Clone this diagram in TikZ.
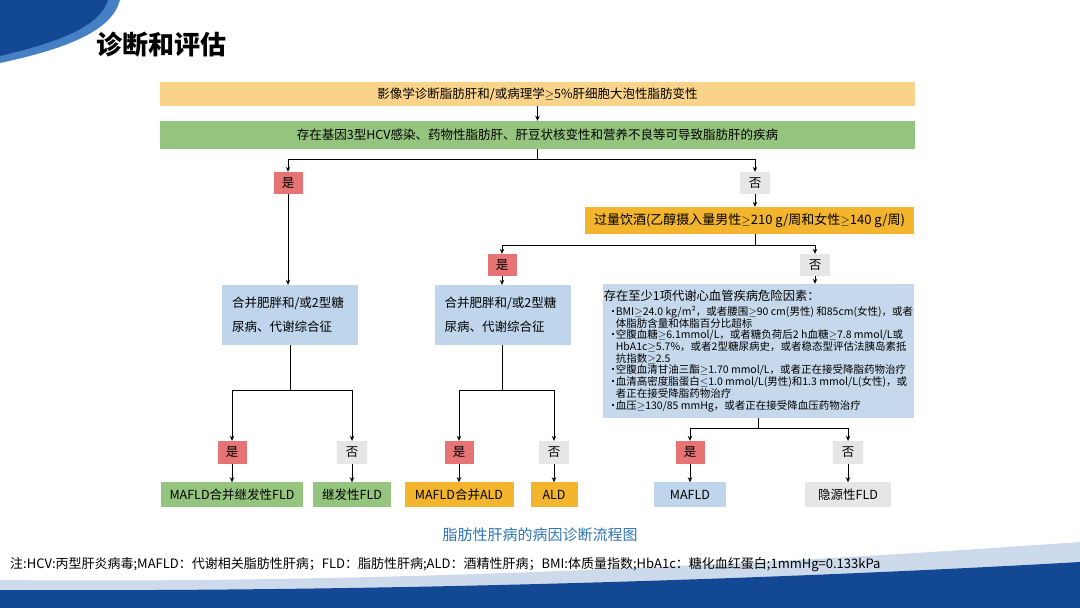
\documentclass[tikz,border=0pt]{standalone}
\usepackage{fontspec}
\setmainfont{Noto Sans CJK SC}
\usetikzlibrary{arrows.meta, positioning, calc}

\definecolor{topyellow}{RGB}{249,211,137}
\definecolor{causegreen}{RGB}{148,196,126}
\definecolor{yesred}{RGB}{231,116,116}
\definecolor{nogrey}{RGB}{230,230,230}
\definecolor{alcorange}{RGB}{242,181,45}
\definecolor{condblue}{RGB}{191,213,235}
\definecolor{riskblue}{RGB}{198,217,236}
\definecolor{capblue}{RGB}{46,117,182}
\definecolor{wavedark}{RGB}{18,72,148}
\definecolor{wavelight}{RGB}{70,128,196}
\definecolor{bandlight}{RGB}{205,218,235}

\newcommand{\riskitem}{\hspace*{4pt}\makebox[8pt][l]{•}}
\newcommand{\riskcont}{\hspace*{12pt}}
\newcommand{\GE}{$\geq$}
\newcommand{\LE}{$\leq$}

\begin{document}
\begin{tikzpicture}[
  x=1pt, y=-1pt,
  >={Stealth[length=5pt,width=4.5pt]},
  font=\fontsize{12.5}{15}\selectfont,
  box/.style={inner sep=0pt, align=center},
  wide/.style={box, minimum width=755pt},
  yesbox/.style={box, fill=yesred, minimum width=29pt, minimum height=22pt},
  nobox/.style={box, fill=nogrey, minimum width=30pt, minimum height=22pt},
  condbox/.style={box, fill=condblue, minimum width=136pt, minimum height=60pt, text width=116pt, align=left, font=\fontsize{12.5}{24}\selectfont},
  riskbox/.style={box, fill=riskblue, minimum width=311pt, minimum height=134pt, align=left, font=\fontsize{10.5}{11.7}\selectfont},
  result/.style={box, minimum height=25pt},
  link/.style={draw, line width=0.8pt}
]
\fill[white] (0,0) rectangle (1080,608);
\useasboundingbox (0,0) rectangle (1080,608);

% SLIDE FRAME
\fill[wavelight] (0,0) -- (120,0) .. controls (112,30) and (70,48) .. (0,63) -- cycle;
\fill[wavedark] (0,0) -- (108,0) .. controls (100,26) and (60,42) .. (0,56) -- cycle;
\fill[bandlight] (0,580) .. controls (400,584) and (800,562) .. (1080,542) -- (1080,608) -- (0,608) -- cycle;
\fill[wavedark] (0,590) .. controls (400,592) and (800,578) .. (1080,562) -- (1080,608) -- (0,608) -- cycle;

\node[anchor=west, font=\fontsize{26}{30}\selectfont\bfseries] (title) at (93,45) {诊断和评估};

% SCREENING
\node[wide, fill=topyellow, minimum height=24pt] (img) at (537.5,94) {影像学诊断脂肪肝和/或病理学\GE 5\%肝细胞大泡性脂肪变性};
\node[wide, fill=causegreen, minimum height=28pt] (cause) at (537.5,135) {存在基因3型HCV感染、药物性脂肪肝、肝豆状核变性和营养不良等可导致脂肪肝的疾病};
\draw[link, ->] (img) -- (cause);

\node[yesbox] (yes1) at (288,183) {是};
\node[nobox] (no1) at (755,183) {否};
\coordinate (s1) at ($(cause.south)+(0,10)$);
\draw[link] (cause.south) -- (s1);
\draw[link, ->] (s1) -| (yes1);
\draw[link, ->] (s1) -| (no1);

% ALCOHOL
\node[box, fill=alcorange, minimum width=329pt, minimum height=27pt, font=\fontsize{13}{15}\selectfont] (alc) at (749.5,220.5) {过量饮酒(乙醇摄入量男性\GE 210 g/周和女性\GE 140 g/周)};
\draw[link, ->] (no1) -- (no1 |- alc.north);

\node[yesbox] (yes2) at (502,265) {是};
\node[nobox] (no2) at (815,265) {否};
\coordinate (s2) at ($(no1 |- alc.south)+(0,11)$);
\draw[link] (no1 |- alc.south) -- (s2);
\draw[link, ->] (s2) -| (yes2);
\draw[link, ->] (s2) -| (no2);

% METABOLIC CONDITIONS
\node[condbox] (cond1) at (290,315) {合并肥胖和/或2型糖\\尿病、代谢综合征};
\node[condbox] (cond2) at (502.5,315) {合并肥胖和/或2型糖\\尿病、代谢综合征};
\draw[link, ->] (yes1) -- (yes1 |- cond1.north);
\draw[link, ->] (yes2) -- (yes2 |- cond2.north);

\node[riskbox] (risk) at (758.5,351) {{\fontsize{12.3}{15}\selectfont 存在至少1项代谢心血管疾病危险因素：}\\[3pt]
\riskitem BMI\GE 24.0 kg/m²，或者腰围\GE 90 cm(男性) 和85cm(女性)，或者\\
\riskcont 体脂肪含量和体脂百分比超标\\
\riskitem 空腹血糖\GE 6.1mmol/L，或者糖负荷后2 h血糖\GE 7.8 mmol/L或\\
\riskcont HbA1c\GE 5.7\%，或者2型糖尿病史，或者稳态型评估法胰岛素抵\\
\riskcont 抗指数\GE 2.5\\
\riskitem 空腹血清甘油三酯\GE 1.70 mmol/L，或者正在接受降脂药物治疗\\
\riskitem 血清高密度脂蛋白\LE 1.0 mmol/L(男性)和1.3 mmol/L(女性)，或\\
\riskcont 者正在接受降脂药物治疗\\
\riskitem 血压\GE 130/85 mmHg，或者正在接受降血压药物治疗};
\draw[link, ->] (no2) -- (no2 |- risk.north);

% DIAGNOSES
\node[yesbox, minimum height=23pt] (yes3) at (232,452.5) {是};
\node[nobox, minimum height=23pt] (no3) at (352,452.5) {否};
\node[yesbox, minimum height=23pt] (yes4) at (459,452.5) {是};
\node[nobox, minimum height=23pt] (no4) at (554,452.5) {否};
\node[yesbox, minimum height=23pt] (yes5) at (690,452.5) {是};
\node[nobox, minimum height=23pt] (no5) at (848,452.5) {否};

\coordinate (s3) at ($(cond1.south)+(0,45)$);
\draw[link] (cond1.south) -- (s3);
\draw[link, ->] (s3) -| (yes3);
\draw[link, ->] (s3) -| (no3);
\coordinate (s4) at ($(cond2.south)+(0,45)$);
\draw[link] (cond2.south) -- (s4);
\draw[link, ->] (s4) -| (yes4);
\draw[link, ->] (s4) -| (no4);
\coordinate (s5) at ($(risk.south)+(0,10)$);
\draw[link] (risk.south) -- (s5);
\draw[link, ->] (s5) -| (yes5);
\draw[link, ->] (s5) -| (no5);

\node[result, fill=causegreen, minimum width=142pt, below=18pt of yes3] (res1) {MAFLD合并继发性FLD};
\node[result, fill=causegreen, minimum width=78pt, below=18pt of no3] (res2) {继发性FLD};
\node[result, fill=alcorange, minimum width=109pt, below=18pt of yes4] (res3) {MAFLD合并ALD};
\node[result, fill=alcorange, minimum width=47pt, below=18pt of no4] (res4) {ALD};
\node[result, fill=condblue, minimum width=72pt, below=18pt of yes5] (res5) {MAFLD};
\node[result, fill=nogrey, minimum width=86pt, below=18pt of no5] (res6) {隐源性FLD};
\foreach \a/\b in {yes3/res1, no3/res2, yes4/res3, no4/res4, yes5/res5, no5/res6}
  \draw[link, ->] (\a) -- (\a |- \b.north);

% CAPTION AND NOTE
\node[font=\fontsize{15}{18}\selectfont, text=capblue] (caption) at (540,535) {脂肪性肝病的病因诊断流程图};
\node[anchor=west, inner sep=0pt, font=\fontsize{13}{15}\selectfont] (note) at (10,565) {注:HCV:丙型肝炎病毒;MAFLD：代谢相关脂肪性肝病；FLD：脂肪性肝病;ALD：酒精性肝病；BMI:体质量指数;HbA1c：糖化血红蛋白;1mmHg=0.133kPa};
\end{tikzpicture}
\end{document}
